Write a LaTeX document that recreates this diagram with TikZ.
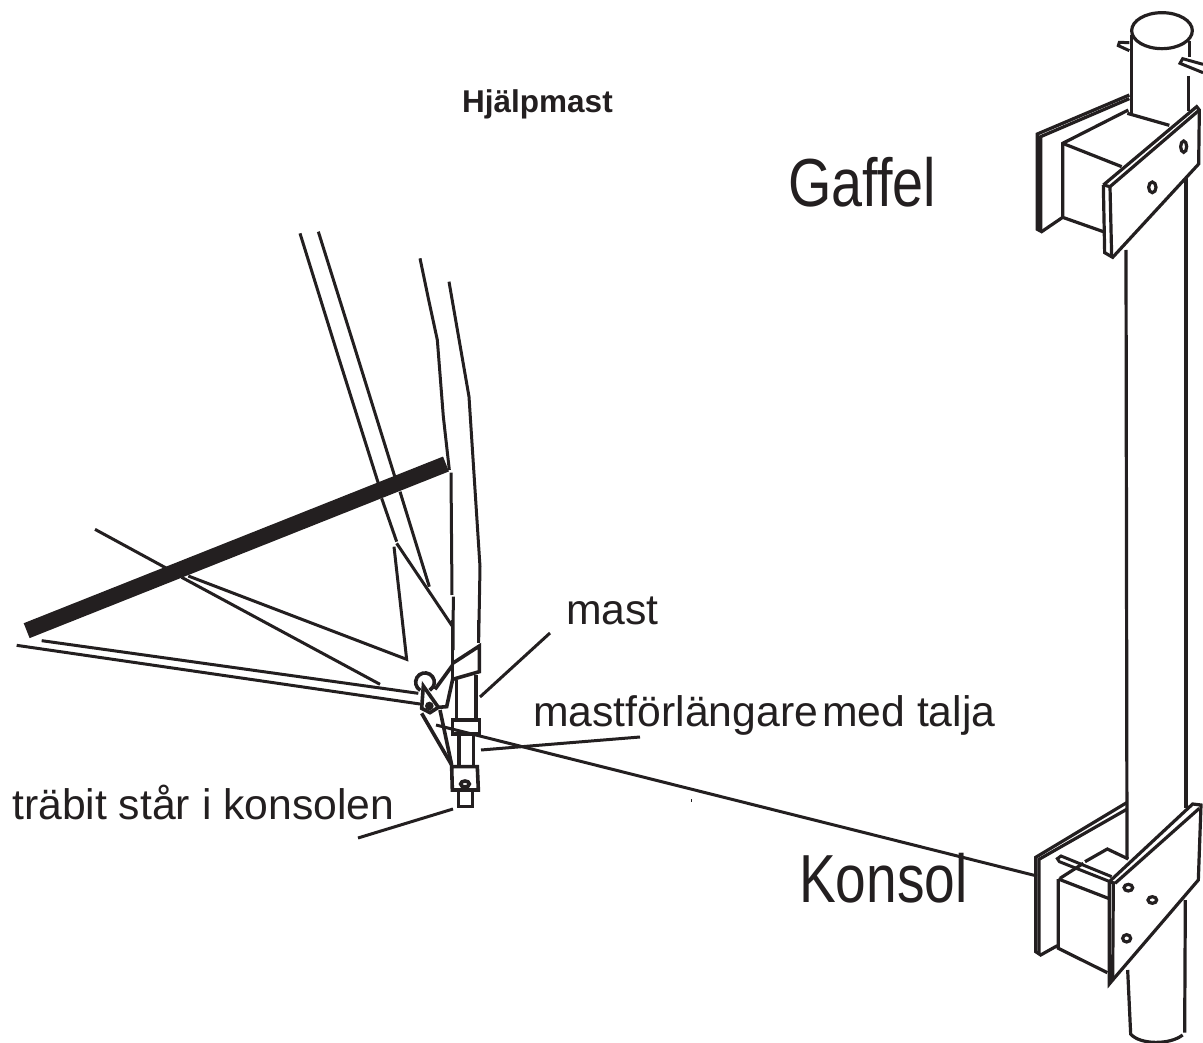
\documentclass[tikz,border=0pt]{standalone}
\usepackage{fontspec}
\setmainfont{Liberation Sans}
\definecolor{ink}{HTML}{231F20}
\tikzset{
  ln/.style={draw=ink,line width=3pt,line join=miter},
  ln2/.style={draw=ink,line width=3.2pt},
  thick2/.style={draw=ink,line width=3.6pt},
  lab/.style={text=ink,inner sep=0pt,anchor=base west,font=\fontsize{42.7}{44}\selectfont},
  big/.style={text=ink,inner sep=0pt,anchor=base west,font=\fontsize{68}{70}\selectfont},
  head/.style={text=ink,inner sep=0pt,anchor=base west,font=\fontsize{31.5}{32}\selectfont\bfseries}
}
\begin{document}
\begin{tikzpicture}[x=1pt,y=-1pt]
\useasboundingbox (0,0) rectangle (1203,1043);
% texts
\node[head] (thead) at (462,113) {Hjälpmast};
\node[big,xscale=.82] (tgaf) at (788,207) {Gaffel};
\node[big,xscale=.81] (tkon) at (799,902.5) {Konsol};
\node[lab] (tmast) at (566,624) {mast};
\node[lab] (tforl) at (533,726) {mastförlängare};
\node[lab] (tmed) at (822,726) {med talja};
\node[lab] (ttra) at (12,819) {träbit står i konsolen};
\fill[ink] (690.5,799) rectangle (691.5,802);
% mast tube between the brackets
\coordinate (tl) at (1126,250);
\coordinate (tr) at (1186,178);
\coordinate (bl) at (1127,859);
\coordinate (br) at (1186,808);
\draw[ln2] (tl)--(bl);
\draw[ln2] (tr)--(br);
% top bracket
\begin{scope}[shift={(1000,0)},scale=1/3]
 \draw[ln2] (486,92) ellipse (91 and 54);
 \draw[ln2] (394,105)--(394,340);
 \draw[ln2] (568,122)--(568,172);
 \draw[ln2] (566,228)--(566,332);
 \draw[ln] (388,128)--(358,127)--(355,137)--(388,152);
 \draw[ln] (609,193)--(548,176)--(540,190)--(609,218);
 \draw[ln2] (388,285)--(112,402)--(112,688)--(125,695)--(188,652);
 \draw[ln2] (388,296)--(122,410)--(122,695);
 \draw[ln2] (385,330)--(188,430)--(188,652)--(310,695);
 \draw[ln2] (188,430)--(365,500);
 \draw[ln2] (382,340)--(508,376);
 \draw[ln2] (310,555)--(590,320)--(598,330)--(596,492)--(338,772)--(314,758)--(310,555);
 \draw[ln2] (330,560)--(598,330);
 \draw[ln2] (310,555)--(330,560)--(335,770);
 \draw[ln2] (457,562) ellipse (11 and 16);
 \draw[ln2] (551,440) ellipse (9 and 17);
\end{scope}
% bottom bracket
\begin{scope}[shift={(1000,780)},scale=1/3]
 \draw[ln2] (380,68)--(107,232)--(107,515)--(122,525)--(172,497);
 \draw[ln2] (380,88)--(117,238)--(117,522);
 \draw[ln2] (180,295)--(250,250);
 \draw[ln2] (255,245)--(322,207)--(385,237);
 \draw[ln2] (175,297)--(175,505)--(322,578);
 \draw[ln2] (175,297)--(325,355);
 \draw[ln] (335,290)--(183,228)--(172,236)--(178,245)--(330,305);
 \draw[ln2] (328,305)--(578,72)--(603,75)--(595,300)--(338,600)--(328,612)--(328,305);
 \draw[ln2] (345,310)--(598,85);
 \draw[ln2] (340,310)--(338,600);
 \draw[ln2] (328,305)--(345,310);
 \draw[ln2] (385,323) ellipse (13 and 10);
 \draw[ln2] (457,360) ellipse (13 and 10);
 \draw[ln2] (380,475) ellipse (12 and 11);
 \draw[ln2] (556,360)--(554,758);
 \draw[ln2] (383,570)--(392,762) .. controls (420,795) and (510,795) .. (548,765);
\end{scope}
% mast and boom
\begin{scope}[shift={(280,220)},scale=1/3]
 \draw[ln] (60,40)--(175,410)--(295,790);
 \draw[ln] (305,835)--(350,965);
 \draw[ln] (350,970)--(518,1220);
 \draw[ln] (115,35)--(220,370)--(345,772);
 \draw[ln] (360,815)--(448,1100);
 \draw[ln] (420,115)--(445,235)--(472,360)--(490,590)--(508,750);
 \draw[ln] (513,758)--(516,1125);
 \draw[ln] (520,1130)--(519,1290);
 \draw[ln] (507,185)--(567,530)--(600,1040)--(596,1265);
\end{scope}
\begin{scope}[shift={(0,500)},scale=1/3]
 \draw[ink,line width=16pt] (80,392)--(1338,-108);
 \draw[ln] (1182,140)--(1220,478)--(565,228);
 \draw[ln] (285,88)--(500,205);
 \draw[ln] (545,232)--(1140,553);
 \draw[ln] (125,422)--(1255,580);
 \draw[ln] (50,436)--(1260,612);
\end{scope}
% foot of the mast
\begin{scope}[shift={(390,620)},scale=1/3]
 \draw[thick2] (188,0)--(188,180);
 \draw[thick2] (266,0)--(266,68);
 \draw[thick2] (188,130)--(268,78)--(268,155)--(188,178)--(170,260)--(145,262)--(100,198)--(95,265)--(120,278)--(145,262);
 \draw[thick2] (188,135)--(135,208);
 \draw[thick2] (91,211) arc[start angle=120,end angle=420,radius=28];
 \fill[ink] (118,258) circle (13);
 \draw[thick2] (95,280)--(185,435);
 \draw[thick2] (150,270)--(185,435);
 \draw[thick2] (200,180)--(200,300);
 \draw[thick2] (258,165)--(258,300);
 \draw[thick2] (188,300)--(268,300)--(268,342)--(188,342)--cycle;
 \draw[thick2] (207,345)--(207,435);
 \draw[thick2] (250,345)--(250,435);
 \draw[thick2] (185,440)--(262,440)--(265,510)--(187,510)--cycle;
 \draw[thick2] (225,492) ellipse (13 and 9);
 \draw[thick2] (205,515)--(205,560)--(247,560)--(247,515);
\end{scope}
% wire and leaders
\coordinate (wa) at (436,725);
\coordinate (wb) at (1037,876);
\draw[ln] (wa)--(wb);
\coordinate (la) at (480,697);
\coordinate (lb) at (550,633);
\draw[ln] (la)--(lb);
\coordinate (lc) at (481,750);
\coordinate (ld) at (640,737);
\draw[ln] (lc)--(ld);
\coordinate (le) at (453,809);
\coordinate (lf) at (358,838);
\draw[ln] (le)--(lf);
\end{tikzpicture}
\end{document}
